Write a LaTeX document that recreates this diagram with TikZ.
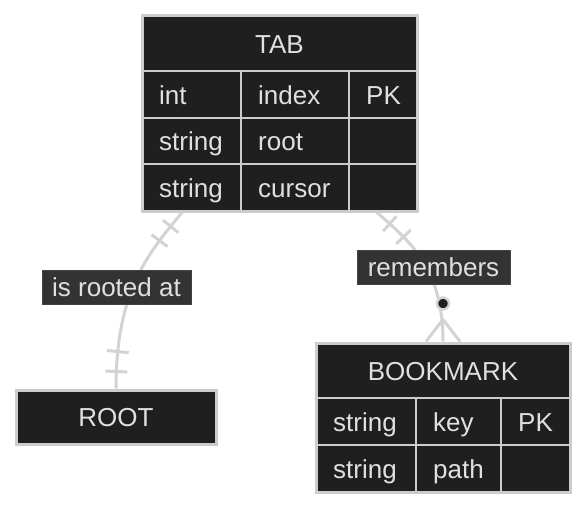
\documentclass[tikz,border=0pt]{standalone}
\usepackage{fontspec}
\setmainfont{Liberation Sans}
\usetikzlibrary{decorations.markings,calc}
\definecolor{boxfill}{HTML}{1F1F1F}
\definecolor{boxline}{HTML}{CCCCCC}
\definecolor{txt}{HTML}{E0E0E0}
\definecolor{edgecol}{HTML}{D3D3D3}
\definecolor{lblfill}{HTML}{333333}
\definecolor{lblline}{HTML}{444444}
\begin{document}
\begin{tikzpicture}[x=1pt,y=-1pt,
  font=\fontsize{26}{30}\selectfont,
  entity/.style={draw=boxline, fill=boxfill, line width=3pt, rectangle, inner sep=0pt},
  divider/.style={draw=boxline, line width=1.8pt},
  head/.style={text=txt, inner sep=0pt, anchor=base},
  cell/.style={text=txt, anchor=base west, inner sep=0pt},
  lbl/.style={fill=lblfill, draw=lblline, line width=0.8pt, text=txt, inner sep=0pt, minimum height=34pt, text depth=0pt, text height=18.6pt},
  rel/.style={draw=edgecol, line width=3pt},
  onebar/.style={draw=edgecol, line width=3pt},
  bars1/.style={postaction={decorate}, decoration={markings,
    mark=at position 18pt with {\draw[onebar] (0pt,-10pt) -- (0pt,10pt);},
    mark=at position 36pt with {\draw[onebar] (0pt,-10pt) -- (0pt,10pt);},
    mark=at position -17pt with {\draw[onebar] (0pt,-11pt) -- (0pt,11pt);},
    mark=at position -37pt with {\draw[onebar] (0pt,-11pt) -- (0pt,11pt);}}},
  bars2/.style={postaction={decorate}, decoration={markings,
    mark=at position 17pt with {\draw[onebar] (0pt,-10pt) -- (0pt,10pt);},
    mark=at position 36pt with {\draw[onebar] (0pt,-10pt) -- (0pt,10pt);}}}
]
\useasboundingbox (0,0) rectangle (586,508);

% TAB entity
\node[entity, minimum width=275pt, minimum height=195pt] (tab) at (279.5,113.5) {};
\draw[divider] (142,71) -- (417,71);
\draw[divider] (142,118) -- (417,118);
\draw[divider] (142,164) -- (417,164);
\draw[divider] (241,71) -- (241,211);
\draw[divider] (349,71) -- (349,211);
\node[head] (tabh) at (279.5,53.3) {TAB};
\node[cell] (t11) at (159,104.3) {int};
\node[cell] (t12) at (258,104.3) {index};
\node[cell] (t13) at (366,104.3) {PK};
\node[cell] (t21) at (159,150.5) {string};
\node[cell] (t22) at (258,150.5) {root};
\node[cell] (t31) at (159,197) {string};
\node[cell] (t32) at (258,197) {cursor};

% ROOT entity
\node[entity, minimum width=200pt, minimum height=54pt] (root) at (116,417) {};
\node[head] (rooth) at (116,426.5) {ROOT};

% BOOKMARK entity
\node[entity, minimum width=254pt, minimum height=149pt] (bm) at (443,417.5) {};
\draw[divider] (316,398) -- (570,398);
\draw[divider] (316,445) -- (570,445);
\draw[divider] (416,398) -- (416,492);
\draw[divider] (501,398) -- (501,492);
\node[head] (bmh) at (443,380.2) {BOOKMARK};
\node[cell] (b11) at (333,431) {string};
\node[cell] (b12) at (433,431) {key};
\node[cell] (b13) at (518,431) {PK};
\node[cell] (b21) at (333,478) {string};
\node[cell] (b22) at (433,478) {path};

% connectors
\coordinate (s1) at ($(tab.south)+(-97.5,0)$);
\coordinate (s2) at ($(tab.south)+(97.5,0)$);
\path[rel, bars1] (s1) .. controls +(-32,39) and +(0,-100) .. (root.north);
\path[rel, bars2] (s2) .. controls +(33,29) and +(0,-73) .. (bm.north);
\coordinate (foot) at ($(bm.north)+(0,-22)$);
\draw[onebar] (foot) -- ($(bm.north)+(-17,0)$);
\draw[onebar] (foot) -- ($(bm.north)+(17,0)$);
\draw[onebar, fill=boxfill, line width=2.5pt] ($(bm.north)+(0,-38)$) circle[radius=6pt];

% labels
\node[lbl, minimum width=149pt] (l1) at (116.5,287) {is rooted at};
\node[lbl, minimum width=153pt] (l2) at (433.5,267.5) {remembers};
\end{tikzpicture}
\end{document}
